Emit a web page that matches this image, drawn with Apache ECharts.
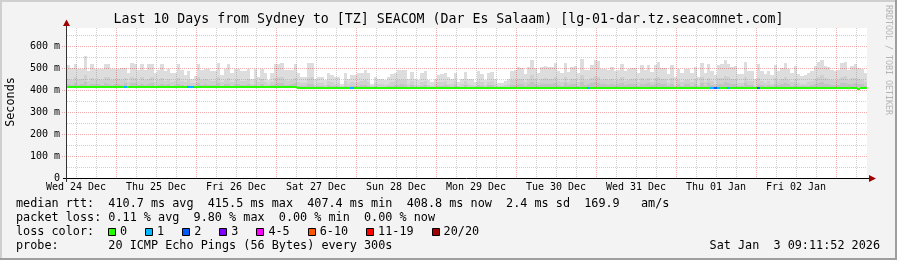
<!DOCTYPE html>
<html><head><meta charset="utf-8">
<script src="https://cdn.jsdelivr.net/npm/echarts@6/dist/echarts.min.js"></script>
<style>html,body{margin:0;padding:0;background:#f3f3f3}#c{width:897px;height:260px}</style>
</head><body><div id="c"></div>
<script>
// ---------------- data ----------------
const titleText = 'Last 10 Days from Sydney to [TZ] SEACOM (Dar Es Salaam) [lg-01-dar.tz.seacomnet.com]';
const yAxisName = 'Seconds';
const startHour = 9.3;      // hours after Wed 24 Dec 00:00 at the left edge
const spanHours = 240;      // 10 days, one bin per hour
const dayLabels = ['Wed 24 Dec','Thu 25 Dec','Fri 26 Dec','Sat 27 Dec','Sun 28 Dec','Mon 29 Dec','Tue 30 Dec','Wed 31 Dec','Thu 01 Jan','Fri 02 Jan'];
const yTickValues = [0,100,200,300,400,500,600];
const yMax = 683;

// smoke (ms): outer max, mid band top, inner band top
const smokeMax = [
514,503,518,498,498,555,488,521,498,498,
498,521,518,498,498,498,503,503,480,522,
518,490,518,494,518,518,476,490,518,488,
498,480,480,518,490,470,488,450,466,521,
490,498,498,488,488,525,470,498,518,476,
498,498,488,488,498,450,498,461,498,476,
447,476,518,521,524,494,494,494,518,476,
461,461,524,524,449,461,461,445,479,470,
458,461,430,479,449,470,470,476,479,491,
476,430,461,449,449,445,458,473,479,491,
494,494,449,482,449,445,476,488,445,438,
449,470,473,479,461,449,479,438,449,482,
449,449,438,485,473,445,479,482,449,433,
433,442,449,488,491,506,503,473,506,539,
503,479,506,509,506,506,524,488,479,524,
482,506,509,479,541,491,491,515,536,533,
497,497,494,506,488,494,518,488,497,503,
503,476,515,494,515,482,515,527,503,503,
473,515,458,497,479,497,497,479,506,458,
524,479,521,488,468,515,518,536,518,506,
509,473,473,527,488,488,449,518,488,473,
488,468,515,488,503,524,497,479,509,473,
464,468,479,488,509,527,539,509,506,494,
488,491,524,527,494,509,518,503,497,479];
const smokeMid = [
452,448,460,445,450,470,440,455,447,450,
446,462,458,444,449,452,447,455,438,460,
456,443,458,446,452,461,436,445,457,440,
449,438,441,455,443,437,446,432,434,458,
444,450,446,441,443,462,436,448,455,438,
447,451,442,440,449,430,446,435,450,437,
428,439,455,458,460,446,443,447,456,437,
432,434,455,458,425,433,431,424,441,436,
430,433,419,440,427,436,432,438,440,447,
437,420,431,426,428,424,430,436,441,445,
448,446,426,440,425,424,437,442,423,421,
427,436,437,440,430,426,441,420,428,443,
426,425,421,442,436,424,439,441,427,419,
420,423,428,444,446,452,449,435,451,468,
450,438,452,455,451,449,460,441,437,458,
439,451,453,436,470,444,445,456,465,462,
447,449,444,452,440,446,458,441,447,450,
452,435,455,446,456,437,454,460,449,451,
433,455,424,448,437,447,446,436,452,425,
460,436,457,441,430,455,456,466,458,451,
452,432,434,461,441,443,420,456,440,433,
442,430,455,441,449,459,446,437,452,432,
428,430,437,442,452,461,468,455,450,446,
440,444,460,463,447,454,457,450,446,436];
const smokeInner = [
428,425,432,424,427,436,422,430,426,428,
425,433,430,424,426,429,425,431,421,434,
431,423,430,425,428,433,420,424,430,422,
427,421,423,429,424,420,425,419,420,432,
424,427,425,423,424,434,420,426,430,421,
426,428,423,422,427,419,425,420,428,421,
419,422,430,432,433,425,424,426,431,421,
418,419,427,429,415,418,417,414,422,420,
417,418,413,421,416,420,418,421,422,425,
420,413,417,415,416,414,417,420,422,424,
426,425,415,422,415,414,420,423,414,413,
416,420,420,422,417,415,422,413,416,423,
415,415,413,423,420,414,422,422,416,413,
413,414,416,424,425,428,427,420,428,436,
427,422,428,430,428,427,433,423,421,431,
422,428,429,421,437,425,426,431,435,433,
426,427,425,429,423,426,431,424,426,428,
428,421,430,426,431,422,430,433,427,428,
420,430,415,426,421,426,426,421,428,416,
433,421,431,424,419,430,430,435,431,428,
428,420,421,433,424,425,414,430,424,420,
425,419,430,424,427,432,426,421,428,420,
418,419,421,424,428,433,436,430,428,425,
423,425,432,434,426,429,431,428,426,421];
const medianRtt = [
415.6,415.5,415.4,415.5,415.7,415.5,415.3,415.5,415.6,415.5,
415.4,415.5,415.5,415.6,415.5,415.3,415.5,415.4,415.5,415.6,
415.5,415.5,415.7,415.5,415.4,415.5,415.5,415.6,415.5,415.3,
415.5,415.4,415.5,415.5,415.6,415.5,415.3,415.4,415.5,415.5,
415.6,415.5,415.5,415.4,415.5,415.7,415.5,415.5,415.3,415.5,
415.5,415.4,415.6,415.5,415.5,415.5,415.4,415.5,415.6,415.5,
415.5,415.3,415.5,415.6,415.5,415.4,415.5,415.5,415.4,408.6,
408.5,408.4,408.6,408.5,408.5,408.7,408.5,408.3,408.5,408.6,
408.5,408.4,408.5,408.6,408.5,408.5,408.4,408.5,408.7,408.5,
408.6,408.5,408.4,408.5,408.5,408.6,408.5,408.3,408.5,408.5,
408.4,408.5,408.6,408.5,408.5,408.4,408.5,408.6,408.5,408.5,
408.5,408.7,408.5,408.4,408.5,408.5,408.6,408.5,408.5,408.4,
408.5,408.5,408.6,408.5,408.3,408.5,408.5,408.6,408.5,408.5,
408.4,408.5,408.5,408.7,408.5,408.5,408.6,408.4,408.5,408.5,
408.5,408.6,408.5,408.5,408.4,408.5,408.5,408.6,408.5,408.5,
408.5,408.4,408.5,408.6,408.5,408.5,408.5,408.4,408.6,408.5,
408.5,408.5,408.6,408.4,408.5,408.5,408.5,408.6,408.5,408.4,
408.5,408.5,408.6,408.5,408.5,408.4,408.5,408.5,408.7,408.5,
408.6,408.5,408.4,408.5,408.5,408.6,408.5,408.5,408.4,408.5,
408.5,408.6,408.5,408.5,408.5,408.4,408.6,408.5,408.5,408.5,
408.4,408.5,408.6,408.5,408.5,408.5,408.4,408.5,408.6,408.5,
408.5,408.5,408.4,408.6,408.5,408.5,408.5,408.6,408.4,408.5,
408.5,408.6,408.5,408.5,408.4,408.5,408.5,408.6,408.5,408.5,
408.5,408.6,408.4,408.5,408.5,408.6,408.4,405.5,408.3,408.8];
// packet loss events (bin index, lost pings out of 20)
const lossBins   = [17,36,37,85,156,193,194,195,198,207];
const lossCounts = [1, 1, 1, 1, 1,  1,  2,  1,  1,  2];
const lossLabels = ['0','1','2','3','4-5','6-10','11-19','20/20'];
const lossColors = ['#26ff00','#00b8ff','#0059ff','#7e00ff','#ff00ff','#ff5500','#ff0000','#a10000'];
const legendLines = [
  'median rtt:  410.7 ms avg  415.5 ms max  407.4 ms min  408.8 ms now  2.4 ms sd  169.9   am/s',
  'packet loss: 0.11 % avg  9.80 % max  0.00 % min  0.00 % now',
  'loss color:',
  'probe:       20 ICMP Echo Pings (56 Bytes) every 300s'
];
const dateStamp = 'Sat Jan  3 09:11:52 2026';
const watermark = 'RRDTOOL / TOBI OETIKER';

// ---------------- build ----------------
const MONO = '"DejaVu Sans Mono", "Liberation Mono", monospace';
const SMOKE = {light:'#dddddd', mid:'#d0d0d0', dark:'#c2c2c2'};
const lossPerBin = medianRtt.map(() => 0);
lossBins.forEach((b, i) => { lossPerBin[b] = lossCounts[i]; });
function lossIndex(c){ if(c===0) return 0; if(c<=3) return c; if(c<=5) return 4; if(c<=10) return 5; if(c<=19) return 6; return 7; }

const binData = medianRtt.map((m, k) => [startHour + k, startHour + k + 1, m, smokeInner[k], smokeMid[k], smokeMax[k], lossIndex(lossPerBin[k])]);

// grid lines (hours since Wed 24 Dec 00:00)
const vGrid = [];
for (let h = 6; h < startHour + spanHours; h += 6) if (h > startHour) vGrid.push([h, h % 24 === 0 ? 1 : 0]);
const hGrid = [];
for (let v = 50; v < yMax; v += 50) hGrid.push([v, v % 100 === 0 ? 1 : 0]);
const dayLabelData = dayLabels.map((t, i) => [12 + 24 * i, i]);

const MINOR = 'rgba(110,110,110,0.32)';
const MAJOR = 'rgba(210,0,0,0.32)';

function textStyle(t, size, fill, align, valign) {
  return {text: t, fontSize: size, fontFamily: MONO, fill: fill,
          textAlign: align, align: align, textVerticalAlign: valign, verticalAlign: valign};
}

const graphics = [];
// frame shading
graphics.push({type:'rect', shape:{x:0,y:0,width:897,height:2}, style:{fill:'#cfcfcf'}, z:-10});
graphics.push({type:'rect', shape:{x:0,y:0,width:2,height:260}, style:{fill:'#cfcfcf'}, z:-10});
graphics.push({type:'rect', shape:{x:895,y:0,width:2,height:260}, style:{fill:'#9e9e9e'}, z:-10});
graphics.push({type:'rect', shape:{x:0,y:258,width:897,height:2}, style:{fill:'#9e9e9e'}, z:-10});
// plot background
graphics.push({type:'rect', shape:{x:67,y:28,width:800,height:150}, style:{fill:'#ffffff'}, z:-9});
// title
graphics.push({type:'text', x:448.5, y:19.5, style:textStyle(titleText, 13.25, '#000', 'center', 'middle')});
// y axis name
graphics.push({type:'text', x:11, y:102, rotation:Math.PI/2, style:textStyle(yAxisName, 11.8, '#000', 'center', 'middle')});
// watermark
graphics.push({type:'text', x:888, y:60, rotation:-Math.PI/2, style:textStyle(watermark, 8.3, '#b4b4b4', 'center', 'middle')});
// axis lines and arrows
graphics.push({type:'line', shape:{x1:63,y1:178.5,x2:870,y2:178.5}, style:{stroke:'#000',lineWidth:1}, z:50});
graphics.push({type:'line', shape:{x1:66.5,y1:182,x2:66.5,y2:24}, style:{stroke:'#333',lineWidth:1}, z:50});
graphics.push({type:'polygon', shape:{points:[[66.5,19.5],[63,26],[70,26]]}, style:{fill:'#a10000'}, z:51});
graphics.push({type:'polygon', shape:{points:[[876,178.5],[869,175],[869,182]]}, style:{fill:'#a10000'}, z:51});
// legend
const lineY = [204, 218, 232, 246];
legendLines.forEach((t, i) => graphics.push({type:'text', x:16, y:lineY[i], style:textStyle(t, 11.8, '#000', 'left', 'middle')}));
let lx = 108;
lossLabels.forEach((t, i) => {
  graphics.push({type:'rect', shape:{x:Math.round(lx)+0.5, y:228.5, width:7, height:7}, style:{fill:lossColors[i], stroke:'#000', lineWidth:1}});
  graphics.push({type:'text', x:lx + 12, y:232, style:textStyle(t, 11.8, '#000', 'left', 'middle')});
  lx += 12 + t.length * 7.1 + 18;
});
graphics.push({type:'text', x:880, y:246, style:textStyle(dateStamp, 11.8, '#000', 'right', 'middle')});

const chart = echarts.init(document.getElementById('c'), null, {renderer:'canvas'});
chart.setOption({
  animation: false,
  backgroundColor: '#f3f3f3',
  grid: {left:67, top:28, width:800, height:150, containLabel:false},
  xAxis: {type:'value', min:startHour, max:startHour + spanHours, show:true,
          axisLine:{show:false}, axisTick:{show:false}, axisLabel:{show:false}, splitLine:{show:false}},
  yAxis: {type:'value', min:0, max:yMax, interval:100,
          axisLine:{show:false}, axisTick:{show:false}, splitLine:{show:false},
          axisLabel:{margin:7, fontSize:10, fontFamily:MONO, color:'#000',
            formatter: v => (yTickValues.indexOf(v) < 0 ? '' : (v === 0 ? '0' : v + ' m'))}},
  graphic: graphics,
  series: [
    { // smoke
      type:'custom', z:2, silent:true, clip:true,
      encode:{x:[0,1], y:[2,3,4,5]},
      data: binData,
      renderItem: (params, api) => {
        const xa = Math.round(api.coord([api.value(0), 0])[0]);
        const xb = Math.round(api.coord([api.value(1), 0])[0]);
        const yb = Math.round(api.coord([0, api.value(2)])[1]);
        const r = (v, fill) => { const yt = Math.round(api.coord([0, v])[1]); return {type:'rect', shape:{x:xa, y:yt, width:xb-xa, height:yb-yt}, style:{fill}}; };
        return {type:'group', children:[r(api.value(5), SMOKE.light), r(api.value(4), SMOKE.mid), r(api.value(3), SMOKE.dark)]};
      }
    },
    { // horizontal grid
      type:'custom', z:3, silent:true, clip:false,
      encode:{y:0},
      data: hGrid,
      renderItem: (params, api) => {
        const cs = params.coordSys;
        const y = Math.round(api.coord([startHour, api.value(0)])[1]) + 0.5;
        const major = api.value(1) === 1;
        return {type:'line', shape:{x1:major ? 62 : cs.x, y1:y, x2:cs.x + cs.width, y2:y},
                style:{stroke: major ? MAJOR : MINOR, lineWidth:1, lineDash:[1,1]}};
      }
    },
    { // vertical grid
      type:'custom', z:3, silent:true, clip:false,
      encode:{x:0},
      data: vGrid,
      renderItem: (params, api) => {
        const cs = params.coordSys;
        const x = Math.round(api.coord([api.value(0), 0])[0]) + 0.5;
        const major = api.value(1) === 1;
        return {type:'line', shape:{x1:x, y1:cs.y, x2:x, y2:cs.y + cs.height},
                style:{stroke: major ? MAJOR : MINOR, lineWidth:1, lineDash:[1,1]}};
      }
    },
    { // median rtt coloured by loss
      type:'custom', z:5, silent:true, clip:true,
      encode:{x:[0,1], y:2},
      data: binData,
      renderItem: (params, api) => {
        const xa = Math.round(api.coord([api.value(0), 0])[0]);
        const xb = Math.round(api.coord([api.value(1), 0])[0]);
        const yc = api.coord([0, api.value(2)])[1];
        const yt = Math.round(yc - 1);
        return {type:'rect', shape:{x:xa, y:yt, width:xb-xa, height:2}, style:{fill:lossColors[api.value(6)]}};
      }
    },
    { // day labels
      type:'custom', z:6, silent:true, clip:false,
      encode:{x:0},
      data: dayLabelData,
      renderItem: (params, api) => {
        const p = api.coord([api.value(0), 0]);
        return {type:'text', x:p[0], y:p[1] + 9.5, style:textStyle(dayLabels[api.value(1)], 10, '#000', 'center', 'middle')};
      }
    }
  ]
});
</script>
</body></html>
